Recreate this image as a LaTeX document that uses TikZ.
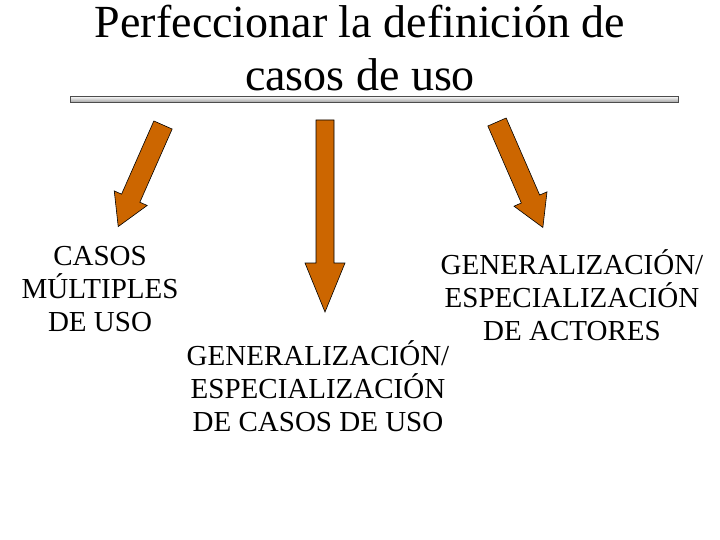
\documentclass[tikz,border=0pt]{standalone}
\usepackage{fontspec}
\setmainfont{Liberation Serif}
\begin{document}
\begin{tikzpicture}[x=1pt,y=-1pt,
  arr/.style={fill={rgb,255:red,204;green,102;blue,0},draw=black,line width=0.6pt},
  lbl/.style={align=center,font=\fontsize{29}{33}\selectfont,inner sep=0pt},
  ttl/.style={align=center,font=\fontsize{46}{53}\selectfont,inner sep=0pt}]
\useasboundingbox (0,0) rectangle (720,540);
\node[ttl] (title) at (360,48) {Perfeccionar la definición de\\casos de uso};
\shade[top color=white,bottom color=gray!70,draw=black!70,line width=0.8pt] (70,96) rectangle (678,102);
\coordinate (bar) at (374,99);
% left arrow
\begin{scope}[shift={(163,125)},rotate=-113.8]
\draw[arr] (0,-10) -- (80,-10) -- (80,-18) -- (111,0) -- (80,18) -- (80,10) -- (0,10) -- cycle;
\end{scope}
% middle arrow
\begin{scope}[shift={(325,120)},rotate=-90]
\draw[arr] (0,-9) -- (143,-9) -- (143,-20) -- (192,0) -- (143,20) -- (143,9) -- (0,9) -- cycle;
\end{scope}
% right arrow
\begin{scope}[shift={(497,122)},rotate=-66.5]
\draw[arr] (0,-10) -- (84,-10) -- (84,-18) -- (115,0) -- (84,18) -- (84,10) -- (0,10) -- cycle;
\end{scope}
\node[lbl] (l1) at (100,289) {CASOS\\MÚLTIPLES\\DE USO};
\node[lbl] (l2) at (318,386) {GENERALIZACIÓN/\\ESPECIALIZACIÓN\\DE CASOS DE USO};
\node[lbl] (l3) at (572,295) {GENERALIZACIÓN/\\ESPECIALIZACIÓN\\DE ACTORES};
\end{tikzpicture}
\end{document}
